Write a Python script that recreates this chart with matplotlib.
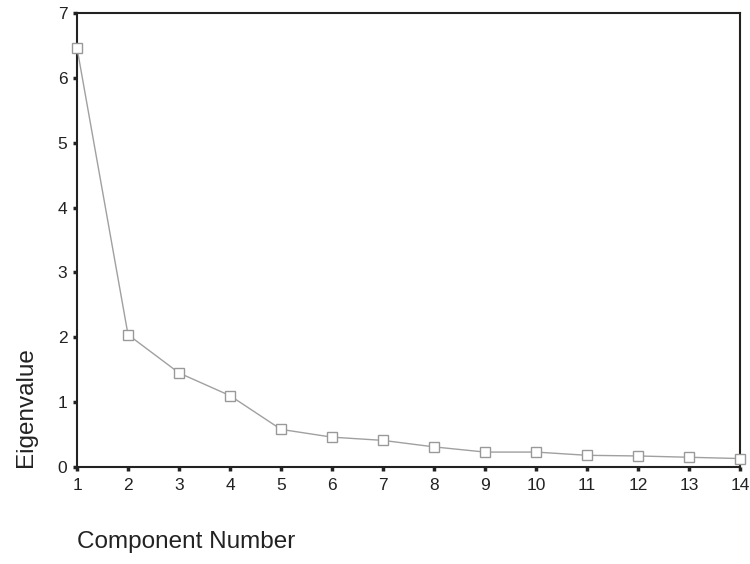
import numpy as np
import matplotlib.pyplot as plt

plt.rcParams['font.family'] = ['Liberation Sans', 'DejaVu Sans']

# Scree plot values
components = [1, 2, 3, 4, 5, 6, 7, 8, 9, 10, 11, 12, 13, 14]
eigenvalues = [6.46, 2.04, 1.45, 1.10, 0.58, 0.46, 0.41, 0.31, 0.23, 0.23, 0.18, 0.17, 0.15, 0.13]

fig = plt.figure(figsize=(7.5, 5.64), dpi=100)
ax = fig.add_axes([0.1027, 0.172, 0.884, 0.805])

ax.plot(components, eigenvalues, color='#a0a0a0', linewidth=1.0,
        marker='s', markersize=6.5, markerfacecolor='white',
        markeredgecolor='#999999', markeredgewidth=1.0, clip_on=False, zorder=3)

ax.set_xlim(1, 14)
ax.set_ylim(0, 7)
ax.set_xticks(components)
ax.set_yticks(range(0, 8))

for side in ['left', 'bottom', 'top', 'right']:
    ax.spines[side].set_linewidth(1.5)
    ax.spines[side].set_color('#222222')

ax.tick_params(direction='out', length=3, width=2.5, colors='#222222',
               labelsize=12.5, pad=5)
ax.tick_params(axis='y', pad=4)

ax.set_xlabel('Component Number', fontsize=17.5, color='#222222')
ax.xaxis.set_label_coords(0.0, -0.14)
ax.xaxis.label.set_horizontalalignment('left')

ax.set_ylabel('Eigenvalue', fontsize=17.5, color='#222222')
ax.yaxis.set_label_coords(-0.06, 0.0)
ax.yaxis.label.set_horizontalalignment('left')

plt.savefig('out.png', dpi=100)
